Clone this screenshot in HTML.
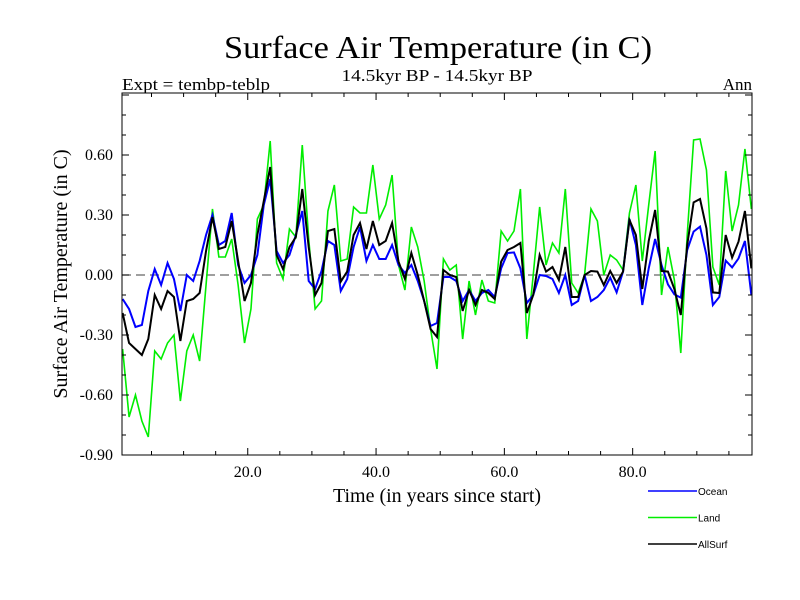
<!DOCTYPE html>
<html><head><meta charset="utf-8"><style>
body{margin:0;background:#fff;}
svg{display:block;font-family:"Liberation Serif",serif;}
</style></head><body>
<svg id="chart" width="800" height="600" viewBox="0 0 800 600">
<text x="438" y="58" font-size="32" text-anchor="middle" textLength="428" lengthAdjust="spacingAndGlyphs">Surface Air Temperature (in C)</text>
<text x="437" y="81" font-size="17" text-anchor="middle" textLength="191" lengthAdjust="spacingAndGlyphs">14.5kyr BP - 14.5kyr BP</text>
<text x="122" y="90" font-size="17" textLength="148" lengthAdjust="spacingAndGlyphs">Expt = tembp-teblp</text>
<text x="752" y="90" font-size="17" text-anchor="end">Ann</text>
<text transform="translate(67,274) rotate(-90)" font-size="20" text-anchor="middle">Surface Air Temperature (in C)</text>
<text x="437" y="502" font-size="20" text-anchor="middle">Time (in years since start)</text>
<g id="grid"></g>
<g id="series"></g>
<rect x="122" y="93" width="630" height="362" fill="none" stroke="#000" stroke-width="1"/>
<g id="axes"></g>
<g id="legend" font-family="Liberation Sans, sans-serif" font-size="10"></g>
</svg>
<script>
const ocean = [-0.12,-0.17,-0.26,-0.25,-0.08,0.03,-0.05,0.06,-0.02,-0.18,0.0,-0.03,0.07,0.2,0.3,0.15,0.17,0.31,0.05,-0.04,0.0,0.1,0.35,0.48,0.12,0.06,0.1,0.2,0.32,-0.03,-0.07,0.02,0.17,0.15,-0.08,-0.02,0.14,0.24,0.07,0.15,0.08,0.08,0.15,0.05,0.01,0.05,-0.03,-0.13,-0.255,-0.24,-0.01,-0.01,-0.03,-0.13,-0.075,-0.13,-0.09,-0.075,-0.11,0.033,0.11,0.113,0.033,-0.14,-0.1,0.0,-0.005,-0.02,-0.09,0.0,-0.15,-0.13,0.0,-0.13,-0.11,-0.075,-0.013,-0.087,0.017,0.28,0.15,-0.15,0.033,0.18,0.05,-0.047,-0.097,-0.113,0.125,0.217,0.242,0.1,-0.15,-0.11,0.072,0.038,0.083,0.17,-0.1];
const land = [-0.37,-0.71,-0.6,-0.73,-0.81,-0.38,-0.42,-0.34,-0.3,-0.63,-0.38,-0.3,-0.43,-0.05,0.33,0.09,0.09,0.18,-0.05,-0.34,-0.17,0.28,0.35,0.67,0.06,-0.02,0.23,0.19,0.65,0.18,-0.17,-0.13,0.32,0.45,0.07,0.08,0.34,0.31,0.31,0.55,0.28,0.35,0.5,0.05,-0.075,0.24,0.14,-0.03,-0.27,-0.47,0.08,0.025,0.05,-0.32,-0.03,-0.2,-0.025,-0.13,-0.14,0.22,0.17,0.22,0.43,-0.32,0.0,0.34,0.05,0.16,0.11,0.43,-0.04,-0.09,0.0,0.33,0.27,0.0,0.1,0.075,0.025,0.31,0.45,0.07,0.35,0.62,-0.1,0.14,-0.025,-0.39,0.2,0.675,0.68,0.525,0.04,-0.05,0.52,0.22,0.35,0.63,0.33];
const allsurf = [-0.19,-0.34,-0.37,-0.4,-0.32,-0.1,-0.17,-0.08,-0.11,-0.33,-0.13,-0.12,-0.09,0.12,0.29,0.13,0.14,0.27,0.07,-0.13,-0.04,0.2,0.37,0.54,0.1,0.03,0.14,0.19,0.43,0.14,-0.1,-0.04,0.22,0.23,-0.033,0.017,0.2,0.26,0.13,0.27,0.15,0.17,0.26,0.067,-0.02,0.11,0.0,-0.13,-0.27,-0.31,0.025,0.0,-0.01,-0.18,-0.075,-0.15,-0.075,-0.09,-0.12,0.067,0.125,0.14,0.16,-0.19,-0.1,0.1,0.017,0.04,-0.025,0.14,-0.11,-0.11,0.0,0.02,0.017,-0.05,0.02,-0.04,0.017,0.275,0.2,-0.07,0.17,0.325,0.02,0.017,-0.07,-0.2,0.15,0.363,0.38,0.233,-0.087,-0.09,0.2,0.087,0.167,0.32,0.033];
const xTickValues = [20,40,60,80];
const xTickLabels = ["20.0","40.0","60.0","80.0"];
const yTickValues = [0.6,0.3,0,-0.3,-0.6,-0.9];
const yTickLabels = ["0.60","0.30","0.00","-0.30","-0.60","-0.90"];
const seriesNames = ["Ocean","Land","AllSurf"];

const NS="http://www.w3.org/2000/svg";
const X0=122,X1=752,Y0=93,Y1=455,XMIN=0.4,XMAX=98.6,YMIN=-0.91,YMAX=0.9;
function xs(t){return X0+(t-XMIN)/(XMAX-XMIN)*(X1-X0);}
function ys(v){return 275-200*v;}
function mk(tag,attrs,parent){const e=document.createElementNS(NS,tag);for(const k in attrs)e.setAttribute(k,attrs[k]);parent.appendChild(e);return e;}
const axes=document.getElementById('axes'),grid=document.getElementById('grid'),ser=document.getElementById('series'),leg=document.getElementById('legend');
// zero line
const z=mk('line',{x1:X0,x2:X1,y1:ys(0),y2:ys(0),stroke:'#666','stroke-width':1.2,'stroke-dasharray':'9,5'},grid);


// x ticks
for(let t=5;t<XMAX;t+=5){const major=t%20===0;const len=major?7:4;
 for(const [ya,dir] of [[Y1,-1],[Y0,1]]){const l=mk('line',{x1:xs(t),x2:xs(t),y1:ya,y2:ya+dir*len,stroke:'#000','stroke-width':1},axes);
 
 }}
xTickValues.forEach((v,i)=>{const tx=mk('text',{x:xs(v),y:Y1+22,'font-size':16,'text-anchor':'middle'},axes);tx.textContent=xTickLabels[i];
 
 });
// y ticks
for(let k=-9;k<=9;k++){const v=k/10;const y=ys(v);if(y<Y0-0.5||y>Y1+0.5)continue;const major=(k%3===0);const len=major?7:4;
 for(const [xa,dir] of [[X0,1],[X1,-1]]){const l=mk('line',{x1:xa,x2:xa+dir*len,y1:y,y2:y,stroke:'#000','stroke-width':1},axes);
 
 }}
yTickValues.forEach((v,i)=>{const tx=mk('text',{x:X0-9,y:ys(v)+5,'font-size':16,'text-anchor':'end'},axes);tx.textContent=yTickLabels[i];
 
 });
// series
const data=[ocean,land,allsurf],colors=['#0000ff','#00ee00','#000000'],widths=[2,1.6,2];
[1,0,2].forEach(s=>{const pts=data[s].map((v,i)=>xs(i+0.5).toFixed(2)+','+ys(v).toFixed(2)).join(' ');
 const p=mk('polyline',{points:pts,fill:'none',stroke:colors[s],'stroke-width':widths[s],'stroke-linejoin':'miter'},ser);
 
 });
// legend
seriesNames.forEach((n,i)=>{const y=491+i*26.5;
 const l=mk('line',{x1:648,x2:697,y1:y,y2:y,stroke:colors[i],'stroke-width':1.5},leg);
 
 
 const t=mk('text',{x:698,y:y+4},leg);t.textContent=n;
 
 });
</script>
</body></html>
